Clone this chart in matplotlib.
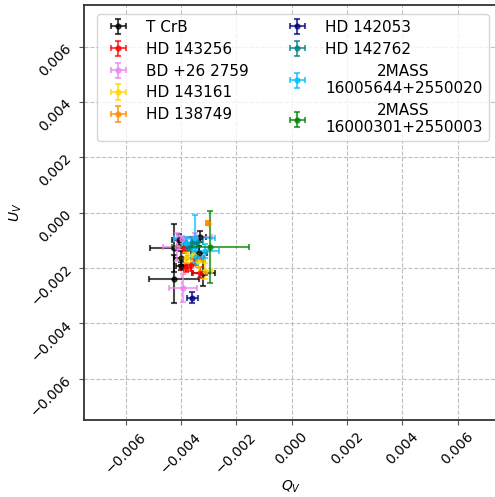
import matplotlib.pyplot as plt
import numpy as np

# Q_V / U_V polarisation per star (units of 1e-3)
stars = ['T CrB', 'HD 143256', 'BD +26 2759', 'HD 143161', 'HD 138749',
         'HD 142053', 'HD 142762', '2MASS\n16005644+2550020', '2MASS\n16000301+2550003']
colors = ['black', 'red', 'violet', 'gold', 'darkorange',
          'navy', 'teal', 'deepskyblue', 'green']

q = [
    [-4.25, -4.23, -3.19, -4.01, -3.29, -3.98, -4.07, -3.35],
    [-3.89, -3.65, -3.31, -3.83, -3.47],
    [-3.91, -4.13, -3.95, -3.47],
    [-3.11, -3.55, -3.83, -3.39],
    [-3.01],
    [-3.59],
    [-3.59, -3.75, -3.40],
    [-3.50, -3.11, -3.45, -3.80],
    [-2.93],
]
u = [
    [-2.39, -1.28, -2.20, -1.64, -0.88, -1.94, -0.98, -1.46],
    [-1.28, -1.88, -2.18, -1.99, -1.63],
    [-2.72, -1.25, -0.95, -0.89],
    [-2.12, -1.52, -1.63, -1.76],
    [-0.37],
    [-3.08],
    [-1.10, -1.25, -1.05],
    [-0.93, -1.40, -1.60, -1.10],
    [-1.25],
]
q_err = [
    [0.90, 0.90, 0.42, 0.25, 0.20, 0.20, 0.25, 0.30],
    [0.25, 0.20, 0.25, 0.20, 0.30],
    [0.51, 0.50, 0.30, 0.60],
    [0.24, 0.20, 0.20, 0.25],
    [0.08],
    [0.20],
    [0.20, 0.15, 0.20],
    [0.73, 0.48, 0.20, 0.15],
    [1.38],
]
u_err = [
    [0.87, 0.88, 0.46, 0.25, 0.20, 0.15, 0.20, 0.25],
    [0.20, 0.25, 0.20, 0.15, 0.25],
    [0.50, 0.50, 0.10, 0.15],
    [0.30, 0.25, 0.20, 0.20],
    [0.08],
    [0.20],
    [0.20, 0.15, 0.20],
    [0.85, 0.25, 0.30, 0.20],
    [1.29],
]

fig = plt.figure(figsize=(4.95, 4.97), dpi=100)
ax = fig.add_axes([84 / 495, 77 / 497, 415 / 495, 415 / 497])

for name, c, qs, us, qe, ue in zip(stars, colors, q, u, q_err, u_err):
    ax.errorbar(np.array(qs) * 1e-3, np.array(us) * 1e-3,
                xerr=np.array(qe) * 1e-3, yerr=np.array(ue) * 1e-3,
                fmt='o', color=c, ms=3.5, capsize=2.5, elinewidth=1.5,
                capthick=1.5, alpha=0.7, label=name)

ax.set_xlim(-0.0075, 0.0075)
ax.set_ylim(-0.0075, 0.0075)
ticks = np.arange(-0.006, 0.0061, 0.002)
labels = [f'{t:.3f}'.replace('-', '\u2212') if abs(t) > 1e-9 else '0.000' for t in ticks]
ax.set_xticks(ticks)
ax.set_yticks(ticks)
ax.set_xticklabels(labels, rotation=45)
ax.set_yticklabels(labels, rotation=45)
ax.grid(True, linestyle='--', color='#b0b0b0', alpha=0.8)
ax.set_xlabel('$Q_V$', labelpad=2)
ax.set_ylabel('$U_V$', labelpad=3)
for s in ax.spines.values():
    s.set_linewidth(1.3)
    s.set_color('#333333')
ax.tick_params(color='#555555')

leg = ax.legend(ncol=2, loc='upper left', bbox_to_anchor=(0.02, 0.99),
                fontsize=11, borderaxespad=0.3, labelspacing=0.45,
                columnspacing=2.2)
for t in leg.get_texts():
    t.set_multialignment('center')

fig.savefig('out.png', dpi=100)
